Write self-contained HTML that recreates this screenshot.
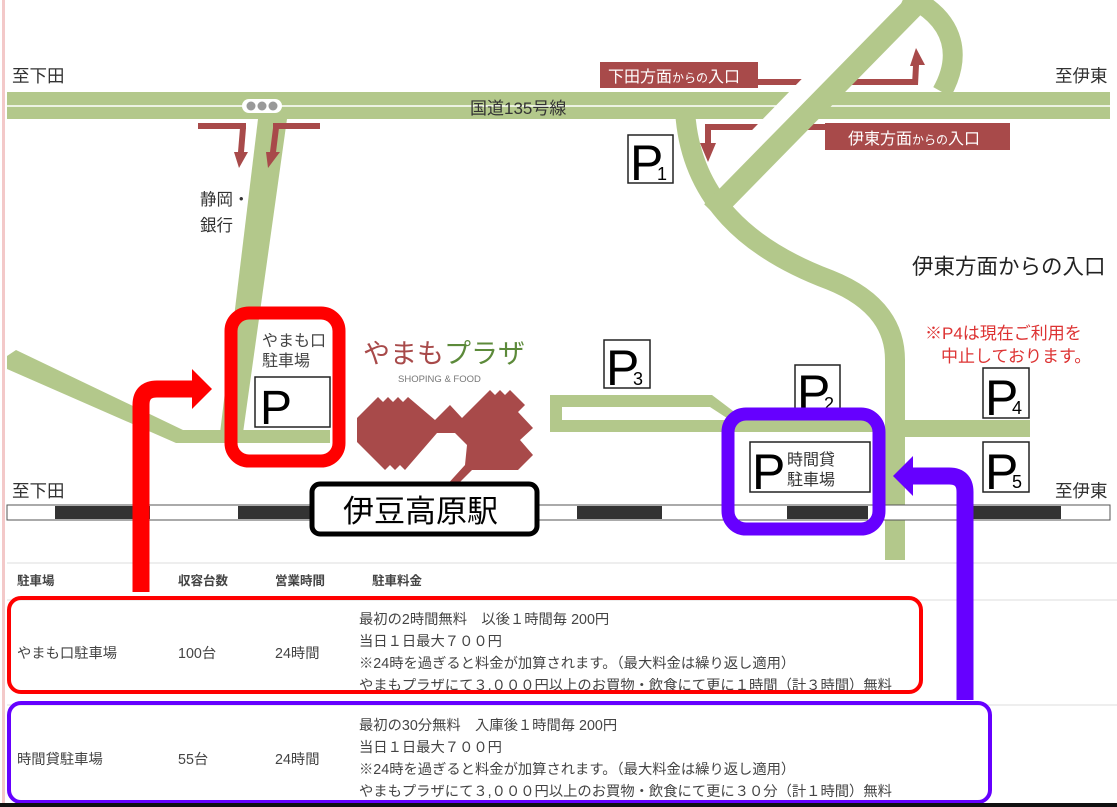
<!DOCTYPE html>
<html><head><meta charset="utf-8"><style>
body{margin:0;width:1117px;height:807px;overflow:hidden;background:#fff}
svg{display:block}
text{font-family:"Liberation Sans","Noto Sans CJK JP",sans-serif}
</style></head><body>
<svg width="1117" height="807" viewBox="0 0 1117 807" xmlns="http://www.w3.org/2000/svg">
<rect x="0" y="0" width="1117" height="807" fill="#fff"/>
<rect x="2" y="0" width="3" height="807" fill="#f3c9c9"/>
<g fill="#b3c88b" stroke="none">
<rect x="7" y="92" width="1103" height="27"/>
<polygon points="258,119 287,119 243,433 220,433"/>
<polygon points="7,356 16,350 183,430 330,430 330,443 176,443 7,369"/>
<polygon points="550,395 712,395 745,420 880,420 880,432 550,432"/>
</g>
<rect x="562" y="407" width="148" height="13" fill="#fff"/>
<polygon points="710,407 730,420 562,420 562,407" fill="#fff"/>
<g fill="none" stroke="#b3c88b">
<path d="M905 -5 C960 20 960 60 942 92" stroke-width="20"/>
<path d="M685 110 C690 200 750 250 830 280 C880 300 895 330 895 360 L895 560" stroke-width="20"/>
</g>
<rect x="885" y="420" width="145" height="17" fill="#b3c88b"/>
<line x1="7" y1="106" x2="1110" y2="106" stroke="#fff" stroke-width="1.5"/>
<rect x="242" y="99" width="40" height="14" rx="7" fill="#fff"/>
<circle cx="251" cy="106" r="4.5" fill="#999"/><circle cx="262" cy="106" r="4.5" fill="#999"/><circle cx="273" cy="106" r="4.5" fill="#999"/>
<g fill="#a84a4a">
<rect x="198" y="123" width="48" height="6"/>
<polygon points="240,128 246,128 244,152 248,152 239,168 234,152 238,152"/>
<rect x="273" y="123" width="47" height="6"/>
<polygon points="273,128 279,128 276,152 280,152 268,168 266,152 270,152"/>
<rect x="600" y="62" width="158" height="26"/>
<rect x="755" y="79" width="160" height="6"/>
<polygon points="912,85 918,85 919,65 925,65 916,48 910,66 913,66"/>
<rect x="825" y="123" width="185" height="27"/>
<rect x="705" y="124" width="125" height="6"/>
<polygon points="705,124 711,124 711,143 716,143 708,162 700,143 705,143"/>
</g>
<line x1="740" y1="164" x2="845" y2="56" stroke="#fff" stroke-width="30"/>
<line x1="712" y1="212" x2="915" y2="5" stroke="#b3c88b" stroke-width="22"/>
<text x="608" y="82" font-size="16" fill="#fff">下田方面<tspan font-size="12">からの</tspan>入口</text>
<text x="848" y="144" font-size="16" fill="#fff">伊東方面<tspan font-size="12">からの</tspan>入口</text>
<g fill="#333" font-size="17.5">
<text x="12" y="82">至下田</text>
<text x="1055" y="82">至伊東</text>
<text x="470" y="114" font-size="17">国道135号線</text>
<text x="200" y="205" font-size="16.5">静岡・</text>
<text x="200" y="231" font-size="16.5">銀行</text>
<text x="12" y="497">至下田</text>
<text x="1055" y="497">至伊東</text>
</g>
<text x="912" y="274" font-size="21.5" fill="#222">伊東方面からの入口</text>
<text x="925" y="339" font-size="17" fill="#d33">※P4は現在ご利用を</text>
<text x="941" y="362" font-size="17" fill="#d33">中止しております。</text>
<!-- P signs -->
<g fill="#fff" stroke="#222" stroke-width="1.5">
<rect x="628" y="135" width="45" height="48"/>
<rect x="604" y="340" width="46" height="48"/>
<rect x="795" y="365" width="45" height="48"/>
<rect x="983" y="368" width="46" height="50"/>
<rect x="983" y="442" width="46" height="50"/>
<rect x="750" y="442" width="120" height="50"/>
<rect x="255" y="377" width="75" height="50"/>
</g>
<g fill="#000" font-size="50">
<text x="630" y="180">P</text><text x="657" y="180" font-size="18">1</text>
<text x="606" y="385">P</text><text x="633" y="385" font-size="18">3</text>
<text x="797" y="410">P</text><text x="824" y="410" font-size="18">2</text>
<text x="985" y="415">P</text><text x="1012" y="414" font-size="18">4</text>
<text x="985" y="489">P</text><text x="1012" y="488" font-size="18">5</text>
<text x="752" y="489">P</text>
<text x="260" y="424" font-size="48">P</text>
</g>
<text x="787" y="465" font-size="16" fill="#333">時間貸</text>
<text x="787" y="485" font-size="16" fill="#333">駐車場</text>
<text x="262" y="346" font-size="16" fill="#444">やまも口</text>
<text x="262" y="366" font-size="16" fill="#444">駐車場</text>
<text x="363" y="363" font-size="27" fill="#a84a4a">やまも<tspan fill="#5c8a3a">プラザ</tspan></text>
<text x="398" y="382" font-size="9.5" fill="#777">SHOPING &amp; FOOD</text>
<polygon fill="#a84a4a" points="357,418 378,397 383,402 388,397 393,402 398,397 403,402 408,397 435,420 450,405 462,418 490,390 495,395 500,390 505,395 510,390 525,405 518,412 533,428 520,440 533,455 518,470 472,470 455,487 445,487 465,465 467,445 455,433 437,433 405,470 400,465 395,470 390,465 385,470 380,465 357,442"/>
<!-- rail -->
<rect x="7" y="505" width="1103" height="15" fill="#fff" stroke="#555" stroke-width="1"/>
<g fill="#333">
<rect x="55" y="506" width="95" height="13"/>
<rect x="238" y="506" width="80" height="13"/>
<rect x="577" y="506" width="85" height="13"/>
<rect x="787" y="506" width="81" height="13"/>
<rect x="972" y="506" width="89" height="13"/>
</g>
<rect x="312" y="484" width="225" height="50" rx="8" fill="#fff" stroke="#000" stroke-width="5"/>
<text x="343" y="522" font-size="31" fill="#000">伊豆高原駅</text>
<!-- highlight boxes -->
<rect x="231" y="313" width="108" height="148" rx="18" fill="none" stroke="#ff0000" stroke-width="13"/>
<rect x="728" y="414" width="151" height="115" rx="18" fill="none" stroke="#6600ff" stroke-width="13"/>
<!-- table -->
<line x1="7" y1="563" x2="1117" y2="563" stroke="#ddd"/>
<line x1="7" y1="600" x2="1117" y2="600" stroke="#ddd"/>
<line x1="7" y1="705" x2="1117" y2="705" stroke="#ddd"/>
<g font-size="12.5" fill="#444" font-weight="bold">
<text x="17" y="585">駐車場</text><text x="178" y="585">収容台数</text><text x="275" y="585">営業時間</text><text x="372" y="585">駐車料金</text>
</g>
<g font-size="14.3" fill="#444">
<text x="17" y="658">やまも口駐車場</text><text x="178" y="658">100台</text><text x="275" y="658">24時間</text>
<text x="359" y="624">最初の2時間無料　以後１時間毎 200円</text>
<text x="359" y="646">当日１日最大７００円</text>
<text x="359" y="668">※24時を過ぎると料金が加算されます。（最大料金は繰り返し適用）</text>
<text x="359" y="690">やまもプラザにて３,０００円以上のお買物・飲食にて更に１時間（計３時間）無料</text>
<text x="17" y="764">時間貸駐車場</text><text x="178" y="764">55台</text><text x="275" y="764">24時間</text>
<text x="359" y="730">最初の30分無料　入庫後１時間毎 200円</text>
<text x="359" y="752">当日１日最大７００円</text>
<text x="359" y="774">※24時を過ぎると料金が加算されます。（最大料金は繰り返し適用）</text>
<text x="359" y="796">やまもプラザにて３,０００円以上のお買物・飲食にて更に３０分（計１時間）無料</text>
</g>
<rect x="9" y="598" width="912" height="94" rx="12" fill="none" stroke="#ff0000" stroke-width="4"/>
<rect x="9" y="703" width="981" height="99" rx="12" fill="none" stroke="#6600ff" stroke-width="4"/>
<!-- arrows -->
<path d="M141 592 L141 405 Q141 389 157 389 L195 389" fill="none" stroke="#ff0000" stroke-width="17"/>
<polygon points="192,369 212,389 192,409" fill="#ff0000"/>
<path d="M965 700 L965 492 Q965 476 949 476 L910 476" fill="none" stroke="#6600ff" stroke-width="17"/>
<polygon points="913,456 893,476 913,496" fill="#6600ff"/>
<rect x="0" y="803" width="1117" height="4" fill="#111"/>
</svg>
</body></html>
